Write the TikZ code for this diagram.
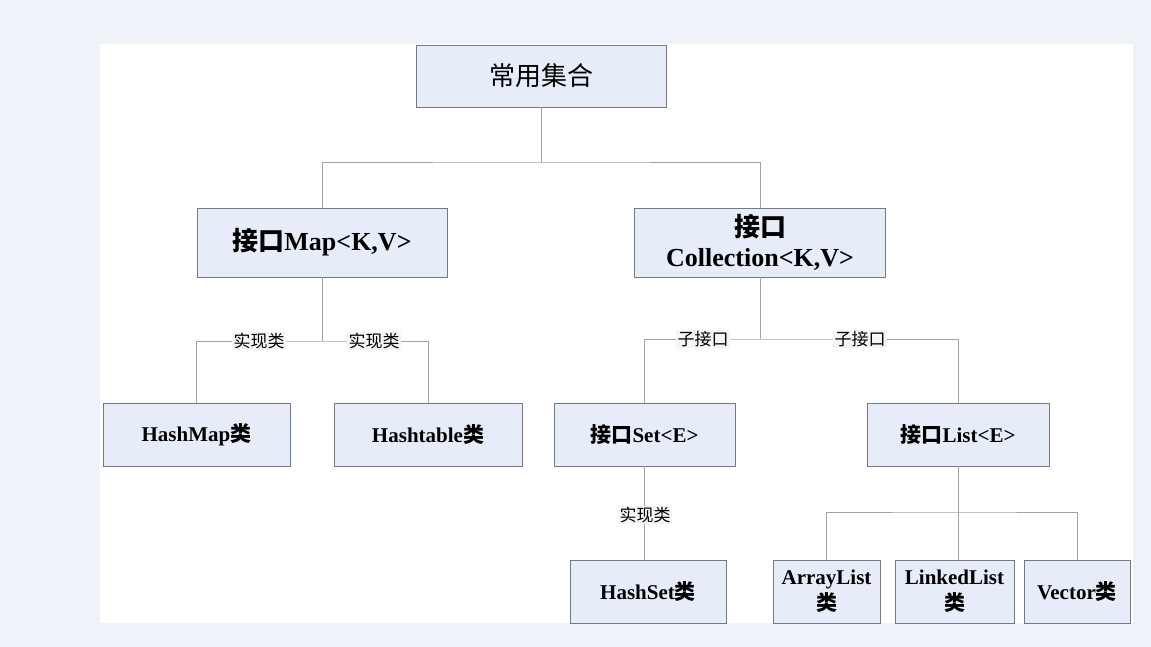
\documentclass[tikz,border=0pt]{standalone}
\usepackage{fontspec}
\setmainfont{Liberation Serif}
\newfontfamily\zh{Noto Sans CJK SC}
\usepackage{tikz}
\definecolor{pagebg}{HTML}{EEF2F9}
\definecolor{boxfill}{HTML}{E7EDF8}
\definecolor{boxline}{HTML}{737A85}
\definecolor{linkgray}{HTML}{A3A3A3}
\tikzstyle{box}=[
        draw=boxline,
        fill=boxfill,
        inner sep=0pt,
        align=center
]
\tikzstyle{bigbox}=[box, minimum height=69pt,
        font=\fontsize{26}{30}\selectfont\bfseries]
\tikzstyle{smallbox}=[box, minimum height=63pt,
        font=\fontsize{21}{26}\selectfont\bfseries]
\tikzstyle{link}=[
        draw=linkgray,
        line width=0.9pt
]
\tikzstyle{tag}=[
        fill=white!96!black,
        inner sep=1.5pt,
        font=\fontsize{17}{19}\selectfont\zh
]

\begin{document}
\begin{tikzpicture}[x=1pt,y=-1pt]
                        \fill[pagebg] (0,0) rectangle (1151,647);
                        \fill[white] (100,44) rectangle (1133,623);

                        \node[box, minimum width=250pt, minimum height=62pt,
                              font=\fontsize{26}{30}\selectfont\zh] (top) at (541,76) {常用集合};

                        \node[bigbox, minimum width=250pt] (map) at (322,242.5) {{\zh 接口}Map<K,V>};
                        \node[bigbox, minimum width=251pt] (coll) at (760,242.5) {{\zh 接口}\\Collection<K,V>};

                        \node[smallbox, minimum width=187pt] (hashmap) at (196.5,434.5) {HashMap{\zh 类}};
                        \node[smallbox, minimum width=188pt] (hashtable) at (428,434.5) {Hashtable{\zh 类}};
                        \node[smallbox, minimum width=181pt] (set) at (644.5,434.5) {{\zh 接口}Set<E>};
                        \node[smallbox, minimum width=182pt] (list) at (958,434.5) {{\zh 接口}List<E>};

                        \node[smallbox, minimum width=156pt] (hashset) at (648,591.5) {HashSet{\zh 类}};
                        \node[smallbox, minimum width=107pt] (arraylist) at (826.5,591.5) {ArrayList\\{\zh 类}};
                        \node[smallbox, minimum width=119pt] (linkedlist) at (954.5,591.5) {LinkedList\\{\zh 类}};
                        \node[smallbox, minimum width=106pt] (vector) at (1077,591.5) {Vector{\zh 类}};

                        % junctions
                        \coordinate (jtop) at (541,162);
                        \coordinate (jmap) at (322,341);
                        \coordinate (jcoll) at (760,339);
                        \coordinate (jlist) at (958,512);

                        \draw[link] (top.south) -- (jtop);
                        \draw[link] (map.north) |- (jtop) -| (coll.north);

                        \draw[link] (map.south) -- (jmap);
                        \draw[link] (hashmap.north) |- (jmap) -| (hashtable.north);

                        \draw[link] (coll.south) -- (jcoll);
                        \draw[link] (set.north) |- (jcoll) -| (list.north);

                        \draw[link] (set.south) -- (set.south |- hashset.north);

                        \draw[link] (list.south) -- (list.south |- linkedlist.north);
                        \draw[link] (arraylist.north) |- (jlist) -| (vector.north);

                        \node[tag] (impl1) at (259,341) {实现类};
                        \node[tag] (impl2) at (374,341) {实现类};
                        \node[tag] (sub1) at (703,339) {子接口};
                        \node[tag] (sub2) at (860,339) {子接口};
                        \node[tag] (impl3) at (645,515) {实现类};

                    \end{tikzpicture}
\end{document}
